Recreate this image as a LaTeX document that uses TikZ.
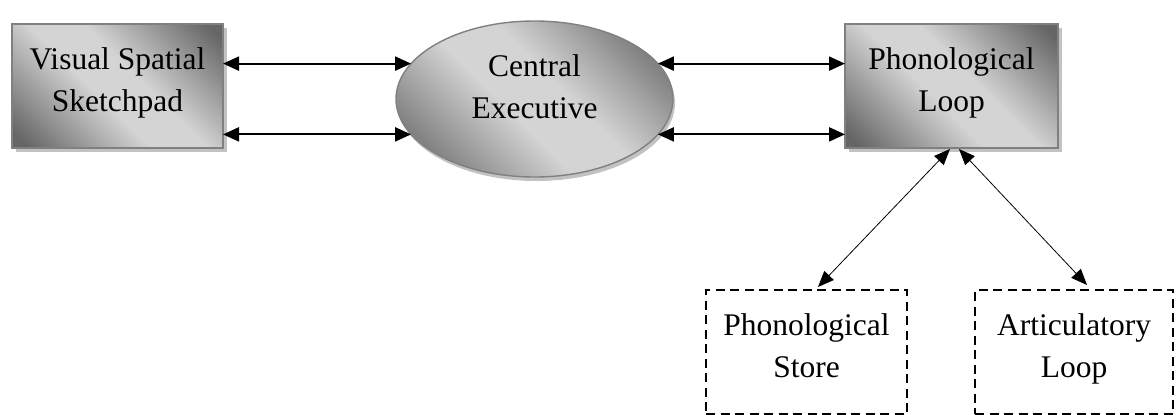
\documentclass[tikz,border=0pt]{standalone}
\usepackage{fontspec}
\setmainfont{Liberation Serif}
\usetikzlibrary{arrows.meta,shapes.geometric,shadows,calc}

\definecolor{shdark}{gray}{0.40}
\definecolor{shlight}{gray}{0.83}
\definecolor{rim}{gray}{0.5}
\definecolor{shadowgray}{gray}{0.76}

% dark edges, broad light band through the middle
\pgfdeclareverticalshading{sheen}{100bp}{
  color(0bp)=(shdark); color(18bp)=(shdark); color(44bp)=(shlight);
  color(56bp)=(shlight); color(82bp)=(shdark); color(100bp)=(shdark)}

\tikzset{
  labeltext/.style={font=\fontsize{31.5}{42}\selectfont, align=center, text=black,
    execute at begin node=\strut, execute at end node=\strut},
  shadedbox/.style={labeltext, rectangle, draw=rim, line width=1.4pt,
    shading=sheen, shading angle=-45,
    drop shadow={shadow xshift=4pt, shadow yshift=-4pt, fill=shadowgray, opacity=1},
    inner sep=0pt, outer sep=0pt},
  shadedoval/.style={labeltext, ellipse, draw=rim, line width=1.4pt,
    shading=sheen, shading angle=-45,
    drop shadow={shadow xshift=2pt, shadow yshift=-4pt, fill=shadowgray, opacity=1},
    inner sep=0pt, outer sep=0pt},
  dashbox/.style={labeltext, rectangle, draw=black, line width=2.5pt,
    dash pattern=on 9pt off 5.5pt, inner sep=0pt, outer sep=0pt},
  link/.style={line width=2.2pt, >={Triangle[length=16pt,width=14pt]}, <->},
  thinlink/.style={line width=0.8pt, >={Triangle[length=16pt,width=13pt]}, <->}
}

\begin{document}
\begin{tikzpicture}[x=1pt,y=-1pt]
  \useasboundingbox (0,0) rectangle (1176,415);

  % main components
  \node[shadedbox, minimum width=211pt, minimum height=124pt] (vss) at (117.5,86) {Visual Spatial\\Sketchpad};
  \node[shadedoval, minimum width=277pt, minimum height=156pt, text depth=25pt] (ce) at (534.5,99) {Central\\Executive};
  \node[shadedbox, minimum width=213pt, minimum height=124pt] (pl) at (951.5,86) {Phonological\\Loop};

  % sub-components of the phonological loop
  \node[dashbox, minimum width=201pt, minimum height=124pt] (ps) at (806.5,352) {Phonological\\Store};
  \node[dashbox, minimum width=198pt, minimum height=124pt] (al) at (1074,352) {Articulatory\\Loop};

  % two-way links with the central executive
  \draw[link] (ce.164 -| vss.east) -- (ce.164);
  \draw[link] (ce.196 -| vss.east) -- (ce.196);
  \draw[link] (ce.16) -- (ce.16 -| pl.west);
  \draw[link] (ce.344) -- (ce.344 -| pl.west);

  % links down to store and rehearsal loop
  \coordinate (plA) at ($(pl.south)+(-1.5,1)$);
  \coordinate (plB) at ($(pl.south)+(7.5,1)$);
  \coordinate (psT) at ($(ps.north)+(11.5,-3)$);
  \coordinate (alT) at ($(al.north)+(13,-5)$);
  \draw[thinlink] (plA) -- (psT);
  \draw[thinlink] (plB) -- (alT);
\end{tikzpicture}
\end{document}
